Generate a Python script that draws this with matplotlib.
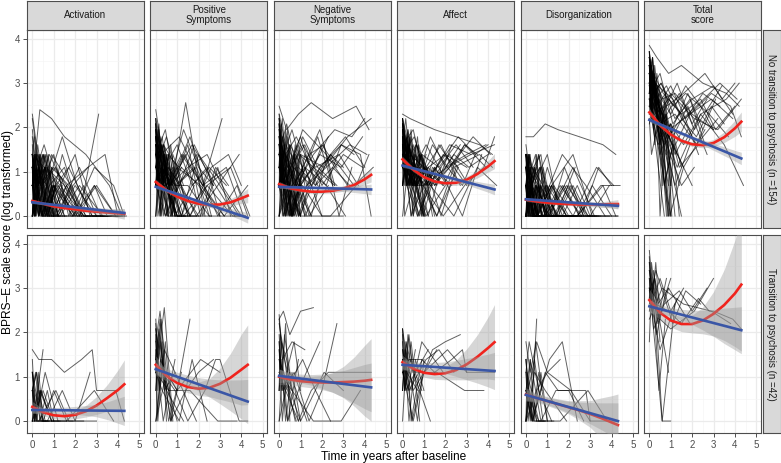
import numpy as np
import matplotlib
matplotlib.use('Agg')
import matplotlib.pyplot as plt

plt.rcParams['font.family'] = ['Liberation Sans', 'DejaVu Sans']

# --
# facets

scales = ['Activation', 'Positive\nSymptoms', 'Negative\nSymptoms', 'Affect',
          'Disorganization', 'Total\nscore']
groups = ['No transition to psychosis (n =154)', 'Transition to psychosis (n =42)']

# --
# visit times per subject (years after baseline)

t_no = [
    [0, 0.2, 0.5, 1.0, 2.1, 3.2, 4.3],
    [0, 0.25, 0.6, 1.1, 2.0],
    [0, 0.1, 0.4, 0.9, 1.6, 2.6],
    [0, 0.3, 0.7, 1.2],
    [0, 0.15, 0.5, 1.0, 1.9, 2.9, 3.9],
    [0, 0.2, 0.45, 0.8],
    [0, 0.35, 0.9, 1.5, 2.5, 3.6, 4.2],
    [0, 0.1, 0.3, 0.6, 1.0],
    [0, 0.25, 0.75, 1.4, 2.3],
    [0, 0.2, 0.55, 1.1, 1.7, 2.8, 3.7],
    [0, 0.4, 1.0],
    [0, 0.15, 0.35, 0.7, 1.3, 2.2, 3.3, 4.1],
    [0, 0.3, 0.6, 1.2, 2.0, 3.0],
    [0, 0.1, 0.5, 0.9, 1.4],
    [0, 0.2, 0.6, 1.3, 2.4, 3.5, 4.4],
    [0, 0.25, 0.5, 0.9],
    [0, 0.45, 1.1, 1.8, 2.7],
    [0, 0.1, 0.3, 0.8, 1.5, 2.1],
    [0, 0.2, 0.7],
    [0, 0.3, 0.8, 1.6, 2.6, 3.4, 4.0],
    [0, 0.15, 0.4, 1.0, 1.5],
    [0, 0.5, 1.2, 2.2, 3.1],
    [0, 0.2, 0.45, 0.95, 1.9, 2.9, 3.8, 4.3],
    [0, 0.1, 0.35, 0.6],
    [0, 0.25, 0.65, 1.2, 1.8],
    [0, 0.3, 0.9, 1.7, 2.5, 3.3],
    [0, 0.2, 0.5, 1.0, 1.6, 2.4, 3.6, 4.2],
    [0, 0.15, 0.55, 1.05],
    [0, 0.1, 0.25, 0.5, 0.75, 1.0],
    [0, 0.15, 0.3, 0.6, 0.9],
    [0, 0.05, 0.2, 0.4, 0.7, 1.1],
    [0, 0.1, 0.3, 0.5, 0.8, 1.3],
    [0, 0.2, 0.35, 0.65, 1.0, 1.5],
    [0, 0.05, 0.15, 0.4, 0.6],
    [0, 0.1, 0.25, 0.45, 0.9, 1.2],
    [0, 0.2, 0.4, 0.55, 0.85],
    [0, 0.1, 0.2, 0.5, 1.0, 1.4],
    [0, 0.15, 0.35, 0.7, 1.1],
    [0, 0.05, 0.3, 0.6, 0.95, 1.6],
    [0, 0.1, 0.4, 0.8],
    [0, 0.2, 0.3, 0.5, 0.7, 1.0],
    [0, 0.1, 0.25, 0.55, 1.2, 1.9],
    [0, 0.15, 0.45, 0.75, 1.05],
    [0, 0.05, 0.2, 0.35, 0.6, 0.9],
    [0, 0.4, 1.0, 1.7, 2.4, 3.0],
    [0, 0.6, 1.3, 2.0, 2.7],
    [0, 0.3, 0.8, 1.5, 2.2, 2.9, 3.5],
    [0, 0.5, 1.1, 1.9, 2.6],
    [0, 0.7, 1.4, 2.1, 2.8, 3.4],
    [0, 0.35, 1.0, 1.6, 2.3],
    [0, 0.55, 1.2, 2.0, 3.0, 3.9],
    [0, 0.45, 0.9, 1.8, 2.5],
    [0, 0.25, 1.1, 2.2, 3.2],
    [0, 0.65, 1.5, 2.4, 3.1, 4.0],
]

t_tr = [
    [0, 0.2, 0.5, 1.0, 1.6],
    [0, 0.1, 0.4, 0.8],
    [0, 0.3, 0.9, 1.5, 2.3, 2.8, 3.0, 3.9, 4.3],
    [0, 0.15, 0.6, 1.2],
    [0, 0.25, 0.5],
    [0, 0.2, 0.7, 1.4, 2.0, 2.7],
    [0, 0.1, 0.3, 0.6, 1.0],
    [0, 0.4, 0.9, 1.9],
    [0, 0.2, 0.45, 0.75],
    [0, 0.3, 1.1, 1.7, 2.4],
    [0, 0.15, 0.5, 1.3],
    [0, 0.6, 1.6, 2.9, 3.8],
    [0, 0.1, 0.35, 0.9],
    [0, 0.5, 1.0, 2.1, 3.0],
    [0, 0.1, 0.3, 0.5],
    [0, 0.2, 0.4, 0.9],
    [0, 0.05, 0.25, 0.6],
    [0, 0.15, 0.35, 0.7, 1.0],
]

# --
# log scale scores, no transition group

act_no = [
    [1.1, 0.69, 0, 0.69, 0, 0, 0], [2.3, 1.39, 0, 0.69, 0], [0.69, 1.1, 0.69, 0, 0, 0],
    [1.39, 0, 0.69, 0], [0, 0.69, 1.39, 0.69, 0, 0.69, 0], [1.79, 0.69, 0, 0],
    [0.69, 2.4, 2.2, 1.79, 1.39, 0.69, 0], [1.39, 1.79, 0.69, 1.1, 0], [0, 0.69, 0, 1.39, 0],
    [0.69, 1.1, 1.61, 0.69, 1.1, 0, 0], [2.2, 0.69, 0], [0.69, 0, 0.69, 0, 0, 0.69, 0, 0],
    [1.1, 0.69, 1.39, 0, 0.69, 0], [0, 1.39, 0, 0.69, 0], [1.39, 0.69, 0, 0.69, 0, 0, 0],
    [0.69, 1.61, 0.69, 0], [0, 0.69, 1.1, 0, 0], [1.1, 0, 0.69, 1.39, 0.69, 0],
    [1.39, 0.69, 0], [0.69, 1.1, 0, 0.69, 1.1, 1.39, 0], [1.61, 0.69, 0, 0.69, 0],
    [0.69, 0, 0.69, 0, 2.3], [1.1, 0.69, 0, 0.69, 0, 1.1, 0.69, 0], [0, 0.69, 1.1, 0],
    [1.95, 0.69, 1.39, 0, 0.69], [0.69, 0, 1.1, 0.69, 0, 0], [0, 0.69, 0, 0, 0.69, 0, 0, 0],
    [1.1, 1.39, 0.69, 0],
    [1.39, 0, 1.1, 0.69, 1.39, 0], [0.69, 1.39, 0, 1.1, 0], [1.1, 0, 1.39, 0.69, 0, 0.69],
    [0, 1.1, 0.69, 1.39, 0, 0], [1.39, 0.69, 1.39, 0, 0.69, 0], [0.69, 1.1, 0, 1.39, 0.69],
    [1.1, 1.39, 0.69, 0, 1.1, 0], [0, 1.39, 0.69, 1.1, 0], [1.39, 1.1, 0, 0.69, 0, 0.69],
    [0.69, 0, 1.39, 0, 0.69], [1.1, 0.69, 0, 1.1, 0, 0], [1.39, 0, 0.69, 0],
    [0.69, 1.1, 1.39, 0, 1.1, 0], [1.1, 0, 0.69, 1.39, 0, 0], [0, 0.69, 1.1, 0, 0.69],
    [1.39, 0.69, 1.1, 0, 0, 0.69],
    [1.1, 0.69, 1.39, 0, 0.69, 0], [0.69, 1.1, 0.69, 1.39, 0], [1.39, 0, 0.69, 1.1, 0, 0.69, 0],
    [0.69, 1.39, 0, 0.69, 1.1], [1.1, 0.69, 1.79, 0.69, 0, 0], [0, 0.69, 1.1, 0.69, 0],
    [1.39, 1.1, 0.69, 0, 0.69, 0], [0.69, 0, 1.39, 0.69, 0], [1.1, 1.39, 0, 1.1, 0],
    [0.69, 1.1, 0.69, 0, 0, 0],
]
pos_no = [
    [1.61, 1.1, 0.69, 1.1, 0.69, 0, 0.69], [2.2, 1.61, 1.1, 0.69, 0], [1.39, 1.79, 1.1, 0.69, 0, 0],
    [1.95, 1.1, 0.69, 0], [0.69, 1.39, 0.69, 0, 0, 0.69, 1.39], [1.79, 1.1, 0.69, 0],
    [1.1, 1.61, 0.69, 0.69, 0, 0, 0], [2.08, 1.39, 1.61, 0.69, 0], [0, 1.1, 0.69, 2.56, 0],
    [1.1, 0.69, 1.39, 1.1, 1.61, 0.69, 0], [1.39, 0.69, 0], [0.69, 1.1, 0, 0.69, 1.39, 0.69, 1.1, 0],
    [1.61, 1.39, 0.69, 1.1, 0.69, 0], [0, 0.69, 1.1, 0, 0], [1.39, 0.69, 1.1, 0, 0.69, 1.1, 0],
    [2.4, 1.61, 0.69, 0], [0.69, 0, 0.69, 1.61, 0.69], [1.79, 1.1, 0.69, 1.1, 0, 0],
    [1.1, 0.69, 0], [0.69, 1.1, 0.69, 0, 1.1, 1.39, 0.69], [1.61, 0.69, 1.1, 0, 0],
    [1.1, 0.69, 1.39, 0.69, 2.2], [0.69, 0.69, 0, 0.69, 1.1, 0, 0.69, 0], [1.39, 0, 0.69, 0],
    [1.1, 1.61, 0.69, 0, 0.69], [0.69, 1.1, 0, 0.69, 1.1, 0.69], [1.39, 0.69, 0.69, 0, 0, 0.69, 0, 0],
    [0.69, 1.1, 0, 0],
    [1.95, 0.69, 1.61, 1.1, 0, 0.69], [1.39, 2.08, 0.69, 1.39, 0], [2.2, 1.1, 0, 1.61, 0.69, 0],
    [0.69, 1.79, 1.1, 0, 1.39, 0.69], [1.61, 0, 1.39, 0.69, 1.1, 0], [2.08, 1.39, 1.95, 0.69, 0],
    [1.1, 1.61, 0, 1.39, 0.69, 1.1], [1.79, 0.69, 1.39, 0, 0.69], [1.39, 1.95, 1.1, 0.69, 0, 0],
    [0, 1.39, 0.69, 1.61, 0], [1.61, 1.1, 1.79, 0.69, 1.1, 0], [2.2, 0.69, 1.39, 0],
    [1.1, 1.79, 0.69, 1.39, 0, 0.69], [1.79, 1.39, 0, 1.1, 0.69, 0], [0.69, 1.61, 1.1, 0, 0.69],
    [1.95, 1.1, 1.61, 0.69, 1.39, 0],
    [1.79, 1.1, 1.61, 0.69, 1.1, 0], [1.39, 0.69, 1.95, 1.1, 0.69], [2.08, 1.39, 0.69, 1.61, 0, 1.1, 0],
    [1.1, 1.79, 0.69, 1.39, 0], [1.61, 0.69, 1.39, 0, 1.1, 0.69], [0.69, 1.61, 1.1, 1.79, 0.69],
    [1.95, 1.1, 0, 1.39, 0.69, 0], [1.39, 1.95, 0.69, 1.1, 0], [0.69, 1.39, 1.79, 0.69, 0],
    [1.61, 0.69, 1.1, 1.39, 0.69, 0],
]
neg_no = [
    [1.61, 1.1, 0.69, 1.39, 1.1, 1.79, 2.2], [0.69, 1.1, 0, 0.69, 0], [2.2, 1.61, 1.1, 0.69, 1.1, 0.69],
    [0, 0.69, 1.39, 0], [1.1, 0.69, 0, 0.69, 1.39, 1.1, 1.79], [1.79, 1.39, 0.69, 0],
    [2.48, 1.95, 2.3, 2.56, 2.2, 2.48, 1.95], [0.69, 1.1, 0, 0.69, 0], [1.39, 0.69, 1.1, 0, 0.69],
    [0, 0.69, 1.1, 1.61, 1.1, 1.39, 0.69], [1.95, 0.69, 0], [1.1, 1.39, 0.69, 0, 0.69, 1.1, 1.61, 1.39],
    [0.69, 0, 0.69, 1.1, 0, 0], [2.08, 1.1, 0.69, 0, 0.69], [1.39, 0.69, 0, 0.69, 1.39, 0.69, 1.1],
    [0.69, 1.61, 1.1, 0], [0, 0.69, 1.79, 1.1, 0.69], [1.61, 0.69, 1.39, 0.69, 0, 1.1],
    [1.1, 0, 0.69], [0.69, 1.1, 0.69, 1.39, 1.95, 1.79, 2.2], [1.79, 1.1, 0, 0.69, 0],
    [0.69, 0, 1.1, 0.69, 0], [1.39, 1.1, 0.69, 0, 1.1, 1.61, 1.39, 0], [0, 1.1, 0.69, 0],
    [1.1, 0.69, 0, 1.39, 0.69], [2.3, 1.61, 1.1, 0.69, 1.1, 0.69], [0.69, 0, 0.69, 0, 0, 0, 0.69, 1.39],
    [1.39, 0.69, 0, 0.69],
    [2.08, 0.69, 1.61, 0, 1.39, 0.69], [1.61, 2.2, 1.1, 0, 0.69], [1.1, 1.79, 0.69, 1.39, 0, 1.1],
    [2.3, 1.39, 0, 1.61, 0.69, 0], [0.69, 1.61, 1.1, 0, 1.39, 0.69], [1.95, 0.69, 1.79, 1.1, 0],
    [1.39, 2.08, 0, 1.1, 1.61, 0.69], [0.69, 1.39, 1.95, 0, 1.1], [1.79, 1.1, 0.69, 1.61, 0, 0.69],
    [2.2, 0, 1.39, 0.69, 1.1], [1.1, 1.61, 0.69, 0, 1.39, 1.1], [1.61, 0.69, 1.79, 0],
    [0, 1.1, 1.95, 0.69, 1.39, 0], [1.39, 1.79, 0.69, 1.1, 0, 0.69], [2.08, 1.1, 0, 1.61, 0.69],
    [0.69, 1.95, 1.39, 0, 1.1, 0],
    [1.61, 1.1, 1.79, 0.69, 1.39, 1.1], [1.1, 1.95, 0.69, 1.61, 1.1], [2.2, 1.39, 1.79, 1.1, 0.69, 1.61, 1.39],
    [0.69, 1.61, 1.1, 1.95, 0.69], [1.79, 0.69, 1.39, 1.61, 0, 1.1], [1.39, 2.08, 0.69, 1.1, 1.79],
    [0.69, 1.1, 1.61, 0.69, 1.39, 1.1], [1.95, 1.39, 0.69, 1.79, 0.69], [1.1, 0.69, 1.95, 1.39, 0.69],
    [1.61, 1.1, 0.69, 1.39, 1.79, 1.1],
]
aff_no = [
    [1.95, 1.39, 1.1, 0.69, 1.1, 1.39, 1.61], [2.08, 1.61, 0.69, 0, 0.69], [1.1, 1.79, 1.39, 0.69, 0, 1.1],
    [1.61, 0.69, 1.1, 0], [1.39, 1.1, 0.69, 1.1, 0.69, 1.61, 1.1], [2.2, 1.39, 0.69, 1.1],
    [2.3, 2.2, 2.08, 1.95, 1.79, 1.61, 1.39], [1.79, 1.1, 1.61, 0.69, 0], [0.69, 1.39, 0, 1.1, 0.69],
    [1.39, 0.69, 1.1, 1.61, 1.1, 0, 1.39], [1.1, 0.69, 0], [0.69, 1.39, 1.1, 0, 0.69, 1.1, 1.79, 1.39],
    [1.95, 1.61, 0.69, 1.1, 1.39, 1.1], [1.1, 0, 0.69, 1.39, 0], [1.61, 0.69, 1.1, 0.69, 0, 1.1, 0.69],
    [0, 1.1, 1.61, 0.69], [1.39, 0.69, 1.1, 1.61, 0.69], [2.08, 1.39, 0.69, 0, 1.1, 0.69],
    [1.61, 0.69, 0], [1.1, 1.61, 0.69, 1.1, 1.79, 1.39, 1.61], [0.69, 1.1, 0, 0.69, 1.1],
    [1.79, 1.1, 0.69, 1.39, 0.69], [1.39, 0.69, 1.1, 0.69, 0, 0.69, 1.1, 1.79], [2.2, 1.61, 1.1, 0.69],
    [0.69, 1.39, 0.69, 0, 1.1], [1.1, 0.69, 1.39, 1.1, 1.61, 1.1], [1.61, 1.1, 0.69, 0.69, 0, 1.1, 1.39, 1.1],
    [0.69, 1.39, 0.69, 0],
    [2.2, 1.39, 1.95, 0.69, 1.61, 1.1], [1.79, 0.69, 1.61, 1.1, 0], [1.39, 2.08, 1.1, 1.79, 0.69, 1.1],
    [1.95, 1.1, 1.79, 0, 1.39, 0.69], [1.1, 1.79, 0.69, 1.61, 1.1, 0], [2.08, 1.61, 1.1, 1.95, 0.69],
    [1.61, 0.69, 1.95, 1.39, 0, 1.1], [2.2, 1.79, 0.69, 1.39, 1.1], [0.69, 1.61, 1.39, 0, 1.1, 0.69],
    [1.95, 1.1, 1.79, 0.69, 1.39], [1.39, 1.95, 0.69, 1.61, 0, 1.1], [1.79, 1.39, 0, 1.1],
    [2.08, 0.69, 1.61, 1.1, 1.79, 0], [1.1, 1.79, 1.39, 0.69, 1.1, 0.69], [1.61, 2.2, 0.69, 1.39, 0],
    [1.95, 1.1, 1.61, 0.69, 1.39, 1.1],
    [1.79, 1.39, 0.69, 1.61, 1.1, 0.69], [1.39, 0.69, 1.79, 1.1, 1.61], [2.08, 1.1, 1.39, 0.69, 1.1, 1.61, 1.39],
    [1.61, 1.95, 0.69, 1.39, 1.1], [1.1, 0.69, 1.61, 1.1, 0.69, 1.39], [1.95, 1.39, 1.1, 0.69, 1.61],
    [1.39, 1.79, 0.69, 1.1, 1.39, 1.61], [1.61, 0.69, 1.39, 0, 1.1], [2.2, 1.1, 0.69, 1.61, 1.39],
    [1.1, 1.61, 0.69, 1.39, 1.1, 1.39],
]
dis_no = [
    [0.69, 0, 0.69, 0, 0, 0, 0], [1.39, 0.69, 0, 0, 0], [0, 0.69, 1.1, 0, 0, 0],
    [1.1, 0, 0.69, 0], [0, 1.39, 0.69, 0, 0.69, 0, 0], [0.69, 1.1, 0, 0],
    [1.79, 1.79, 2.08, 1.95, 1.79, 1.61, 1.39], [0.69, 0, 0.69, 1.39, 0], [0, 0.69, 0, 0, 1.1],
    [1.39, 0.69, 0, 0.69, 1.39, 0.69, 0], [0.69, 0, 0], [0, 0.69, 0, 0, 0.69, 0, 1.1, 0.69],
    [1.1, 0.69, 1.39, 0, 0, 0], [0.69, 0, 0, 0.69, 0], [0, 0.69, 0, 0, 0, 0.69, 0.69],
    [1.61, 0.69, 0, 0], [0, 0.69, 0, 1.1, 0], [0.69, 0, 0.69, 0, 0, 0],
    [1.1, 0, 0], [0, 0.69, 0, 0.69, 0, 1.1, 0.69], [0.69, 1.39, 0, 0, 0],
    [0, 0, 0.69, 1.39, 0], [0.69, 0, 0, 0.69, 0, 0, 0, 0], [1.39, 0.69, 0, 0],
    [0, 0.69, 1.1, 0, 0], [0.69, 0, 0, 0.69, 0, 0], [0, 0, 0.69, 0, 0, 0, 0.69, 0],
    [1.1, 0.69, 0, 0],
    [1.39, 0, 0.69, 1.1, 0, 0], [0.69, 1.1, 0, 0.69, 0], [1.1, 0.69, 1.39, 0, 0.69, 0],
    [0, 1.39, 0.69, 0, 1.1, 0], [1.39, 0.69, 0, 1.1, 0, 0], [0.69, 0, 1.39, 0.69, 0],
    [1.1, 1.39, 0, 0.69, 0, 0.69], [0, 0.69, 1.1, 0, 0], [1.39, 1.1, 0.69, 0, 0.69, 0],
    [0.69, 0, 1.1, 1.39, 0], [1.1, 0.69, 0, 0.69, 0, 0], [1.39, 0.69, 0, 0],
    [0, 1.1, 0.69, 1.39, 0, 0], [0.69, 1.39, 0, 0, 0.69, 0], [1.1, 0, 0.69, 0, 0],
    [1.39, 0.69, 1.1, 0, 0.69, 0],
    [0.69, 0, 1.1, 0, 0.69, 0], [1.1, 0.69, 0, 0.69, 0], [0, 1.1, 0.69, 0, 0.69, 0, 0],
    [1.39, 0, 0.69, 0, 0], [0.69, 1.1, 0, 0.69, 0, 0], [0, 0.69, 1.39, 0, 0],
    [1.1, 0, 0.69, 0, 0, 0.69], [0.69, 1.39, 0, 0.69, 0], [0, 0.69, 0, 1.1, 0],
    [1.39, 0.69, 0, 0, 0.69, 0],
]
tot_no = [
    [3.22, 2.64, 2.3, 2.77, 2.2, 1.95, 2.64], [3.58, 3.0, 2.08, 1.61, 0.69], [2.77, 3.22, 2.64, 1.79, 1.1, 1.95],
    [3.4, 2.3, 2.48, 0], [2.3, 2.77, 2.08, 1.39, 2.3, 2.64, 2.2], [3.71, 3.0, 2.08, 1.39],
    [3.85, 3.58, 3.22, 3.4, 3.0, 2.77, 2.48], [3.0, 3.4, 2.64, 2.3, 0.69], [2.48, 1.79, 2.3, 1.1, 1.61],
    [3.22, 2.77, 3.0, 2.48, 2.77, 2.3, 1.79], [2.64, 1.61, 0], [2.77, 3.0, 2.3, 1.61, 2.08, 2.48, 3.0, 2.64],
    [3.4, 3.0, 2.64, 2.77, 2.3, 1.95], [2.2, 1.39, 2.3, 1.79, 0.69], [3.0, 2.48, 2.08, 1.1, 2.3, 1.61, 0.69],
    [3.58, 2.77, 1.95, 1.1], [2.3, 2.64, 1.79, 2.48, 1.39], [3.22, 2.3, 2.77, 1.61, 0.69, 1.1],
    [2.64, 1.95, 0], [2.77, 3.0, 2.48, 2.77, 3.22, 2.64, 3.0], [3.0, 2.2, 1.61, 2.08, 1.1],
    [2.48, 2.08, 2.3, 1.61, 2.64], [3.22, 2.77, 2.48, 1.95, 2.3, 2.77, 2.48, 1.79], [3.4, 2.64, 2.3, 1.39],
    [2.08, 2.77, 2.2, 1.39, 1.95], [2.94, 2.3, 2.64, 2.2, 2.77, 2.48], [2.64, 2.2, 1.79, 2.08, 1.61, 2.3, 2.64, 3.0],
    [3.71, 2.94, 2.48, 1.61],
    [3.58, 2.3, 3.22, 1.61, 2.77, 0.69], [3.22, 3.58, 2.48, 1.1, 0], [2.77, 3.4, 1.95, 2.64, 0.69, 1.61],
    [3.71, 2.64, 3.0, 0, 2.3, 1.39], [3.0, 2.08, 3.22, 2.3, 1.1, 0], [3.4, 2.77, 3.58, 1.95, 0.69],
    [2.64, 3.22, 1.61, 2.77, 0, 1.95], [3.58, 3.0, 2.2, 2.64, 0], [3.22, 2.48, 3.4, 1.39, 2.08, 0],
    [2.94, 3.58, 2.3, 0.69, 1.61], [3.4, 2.64, 3.0, 1.95, 0, 1.1], [3.71, 2.2, 2.94, 0],
    [2.48, 3.22, 2.77, 1.61, 2.3, 0], [3.0, 2.3, 3.4, 2.08, 0.69, 1.61], [3.58, 2.94, 1.79, 2.48, 0],
    [2.77, 3.4, 2.2, 2.94, 1.39, 0.69],
    [3.22, 2.77, 2.3, 2.94, 2.48, 1.95], [2.94, 2.3, 3.0, 2.08, 2.64], [3.4, 2.64, 2.94, 2.2, 1.79, 2.48, 2.08],
    [2.77, 3.22, 2.08, 2.64, 1.61], [3.0, 2.2, 2.77, 1.95, 2.48, 2.94], [3.58, 2.48, 2.94, 2.3, 1.39],
    [2.64, 3.0, 2.2, 2.64, 2.94, 2.3], [3.22, 2.48, 1.79, 2.77, 1.95], [2.48, 3.0, 2.64, 1.61, 2.2],
    [3.4, 2.77, 2.3, 2.64, 1.95, 2.48],
]

# --
# log scale scores, transition group

act_tr = [
    [0.69, 1.1, 0, 0.69, 0], [1.1, 0.69, 0, 0], [1.61, 1.39, 1.39, 1.1, 1.39, 1.61, 0.69, 0.69, 0],
    [1.39, 0, 1.1, 0], [0, 0.69, 1.61], [0.69, 0, 0, 0.69, 0, 1.1], [1.1, 0, 0.69, 0, 0],
    [0, 0.69, 0, 0], [0.69, 1.1, 0, 0], [0, 0, 0.69, 0, 0], [1.1, 0.69, 0, 0],
    [0, 0, 0, 0.69, 0], [0.69, 0, 0.69, 0], [0, 0.69, 0, 0, 0],
    [0.69, 0, 1.1, 0], [1.1, 0, 0.69, 0], [0, 0.69, 0, 0], [0.69, 1.1, 0, 0.69, 0],
]
pos_tr = [
    [1.79, 2.48, 1.1, 0.69, 2.3], [2.2, 1.39, 2.56, 0], [1.39, 1.1, 0.69, 0, 0.69, 1.39, 1.39, 0, 0],
    [2.08, 1.61, 0, 1.1], [1.1, 2.3, 0.69], [0.69, 1.79, 0, 0.69, 1.1, 1.39], [1.61, 0, 1.39, 0.69, 0],
    [0, 1.61, 1.1, 0], [2.3, 0.69, 1.79, 0], [1.1, 0.69, 0, 1.39, 0], [1.39, 2.08, 0.69, 0],
    [1.1, 0.69, 0.69, 0, 0], [1.95, 1.1, 0, 1.39], [0, 1.1, 0.69, 1.39, 1.1],
    [2.08, 0.69, 1.79, 0], [1.39, 2.3, 0.69, 1.1], [1.79, 0, 1.39, 0.69], [0.69, 1.95, 1.1, 0, 0.69],
]
neg_tr = [
    [2.3, 2.48, 1.95, 2.48, 2.56], [1.79, 1.1, 0.69, 0], [1.1, 0.69, 0, 0.69, 1.1, 1.1, 1.1, 1.1, 1.1],
    [2.4, 1.39, 1.79, 1.61], [0, 1.95, 1.1], [1.61, 0.69, 1.1, 0, 0.69, 2.2], [0.69, 1.39, 0, 1.1, 0],
    [1.39, 0, 0.69, 1.79], [2.2, 1.61, 0.69, 0], [0, 0.69, 1.39, 0.69, 0], [1.95, 0.69, 1.1, 0],
    [1.1, 0.69, 0, 0, 0.69], [0.69, 1.79, 1.39, 0], [1.39, 0.69, 0, 1.1, 0.69],
    [1.79, 0.69, 2.2, 0], [2.3, 1.1, 0, 1.39], [0.69, 1.95, 1.39, 0.69], [1.61, 0, 1.1, 1.79, 0.69],
]
aff_tr = [
    [2.08, 1.39, 0.69, 1.1, 1.61], [1.39, 0.69, 1.79, 0], [1.1, 1.39, 1.39, 1.1, 1.39, 1.61, 1.1, 1.1, 1.1],
    [1.79, 0.69, 1.1, 1.61], [0, 1.95, 1.1], [1.61, 1.1, 0.69, 1.61, 1.79, 1.95], [0.69, 1.61, 0, 1.39, 0.69],
    [1.39, 0.69, 1.79, 1.1], [2.08, 1.1, 0, 0.69], [1.1, 0.69, 1.39, 1.61, 1.1], [0.69, 1.79, 1.1, 0],
    [1.39, 1.1, 1.1, 0.69, 0.69], [1.95, 0.69, 1.39, 0.69], [1.1, 0, 1.1, 1.61, 1.1],
    [1.61, 0.69, 1.95, 1.1], [1.1, 1.79, 0, 1.39], [2.08, 1.39, 0.69, 1.61], [0.69, 1.61, 1.1, 0, 1.39],
]
dis_tr = [
    [1.79, 1.1, 1.79, 1.1, 1.39], [0, 0.69, 1.39, 0], [0.69, 0, 1.1, 0.69, 0.69, 0.69, 0, 0, 0],
    [1.1, 1.79, 0.69, 0], [0.69, 0, 2.3], [0, 1.39, 0, 0.69, 0.69, 0], [1.39, 0.69, 0, 1.1, 0],
    [0, 1.1, 0.69, 0], [1.1, 0, 1.79, 0.69], [0.69, 0, 1.39, 1.79, 0], [0, 0.69, 0, 0],
    [0.69, 0, 0, 0.69, 0], [1.39, 0.69, 0, 0], [0, 0.69, 1.1, 0.69, 0],
    [1.1, 0, 0.69, 0], [0.69, 1.39, 0, 0], [0, 1.1, 0.69, 0], [1.39, 0.69, 0, 1.1, 0],
]
tot_tr = [
    [3.4, 2.77, 3.22, 2.48, 3.0], [2.77, 3.58, 2.3, 3.22], [3.0, 2.64, 2.48, 2.2, 2.77, 2.48, 2.48, 2.3, 2.08],
    [3.71, 2.3, 0, 2.64], [2.48, 3.22, 1.79], [3.22, 2.08, 2.64, 2.94, 2.48, 3.0], [1.79, 3.0, 2.48, 0, 0],
    [3.4, 2.2, 3.0, 2.2], [3.85, 2.77, 0.69, 2.3], [2.64, 3.4, 2.2, 2.94, 2.64], [3.0, 2.48, 1.61, 2.77],
    [2.3, 3.0, 2.64, 2.48, 2.2], [3.58, 3.22, 2.64, 1.1], [2.94, 2.3, 2.08, 2.48, 3.22],
    [3.22, 2.48, 3.58, 2.3], [2.77, 3.4, 2.64, 3.0], [3.58, 2.94, 3.22, 2.48], [3.0, 2.64, 1.95, 2.77, 3.22],
]

# --
# smoothers: loess (red) and linear fit (blue) with ribbons

fit_x = [0, 0.5, 1, 1.5, 2, 2.5, 3, 3.5, 4, 4.3]

loess_no = [
    [0.34, 0.28, 0.22, 0.18, 0.15, 0.12, 0.10, 0.08, 0.06, 0.05],
    [0.77, 0.58, 0.44, 0.34, 0.28, 0.25, 0.26, 0.31, 0.40, 0.46],
    [0.72, 0.63, 0.58, 0.55, 0.55, 0.57, 0.62, 0.70, 0.83, 0.93],
    [1.28, 1.05, 0.88, 0.78, 0.74, 0.75, 0.82, 0.95, 1.12, 1.24],
    [0.37, 0.33, 0.30, 0.28, 0.27, 0.26, 0.26, 0.26, 0.27, 0.27],
    [2.34, 2.05, 1.84, 1.70, 1.62, 1.60, 1.65, 1.78, 1.98, 2.13],
]
loess_no_se = [
    [0.04, 0.03, 0.03, 0.03, 0.03, 0.04, 0.05, 0.07, 0.10, 0.12],
    [0.06, 0.04, 0.04, 0.04, 0.04, 0.05, 0.06, 0.08, 0.12, 0.16],
    [0.06, 0.04, 0.04, 0.04, 0.04, 0.05, 0.06, 0.08, 0.12, 0.16],
    [0.07, 0.05, 0.04, 0.04, 0.05, 0.06, 0.07, 0.09, 0.13, 0.17],
    [0.04, 0.03, 0.03, 0.03, 0.03, 0.04, 0.05, 0.06, 0.08, 0.10],
    [0.08, 0.05, 0.05, 0.05, 0.05, 0.06, 0.08, 0.12, 0.18, 0.22],
]
lm_no = [[0.31, 0.07], [0.66, -0.04], [0.66, 0.60], [1.14, 0.60], [0.38, 0.23], [2.17, 1.30]]
lm_no_se = [
    [0.03, 0.02, 0.02, 0.02, 0.03, 0.04, 0.05, 0.06, 0.08, 0.09],
    [0.04, 0.03, 0.03, 0.03, 0.04, 0.05, 0.06, 0.08, 0.10, 0.12],
    [0.04, 0.03, 0.03, 0.03, 0.04, 0.05, 0.06, 0.08, 0.10, 0.12],
    [0.04, 0.03, 0.03, 0.03, 0.04, 0.05, 0.06, 0.08, 0.10, 0.12],
    [0.03, 0.02, 0.02, 0.02, 0.03, 0.03, 0.04, 0.05, 0.06, 0.07],
    [0.05, 0.04, 0.04, 0.04, 0.05, 0.06, 0.08, 0.10, 0.12, 0.14],
]

loess_tr = [
    [0.32, 0.20, 0.13, 0.11, 0.14, 0.22, 0.35, 0.52, 0.70, 0.83],
    [1.27, 1.02, 0.86, 0.77, 0.73, 0.75, 0.84, 0.98, 1.16, 1.27],
    [1.00, 0.94, 0.90, 0.88, 0.87, 0.87, 0.88, 0.89, 0.91, 0.93],
    [1.33, 1.18, 1.09, 1.06, 1.08, 1.15, 1.28, 1.45, 1.65, 1.78],
    [0.60, 0.52, 0.45, 0.38, 0.31, 0.24, 0.16, 0.07, -0.03, -0.09],
    [2.73, 2.45, 2.27, 2.19, 2.19, 2.27, 2.42, 2.62, 2.88, 3.08],
]
loess_tr_se = [
    [0.12, 0.08, 0.08, 0.08, 0.09, 0.13, 0.20, 0.30, 0.45, 0.55],
    [0.20, 0.12, 0.12, 0.13, 0.15, 0.20, 0.35, 0.55, 0.80, 0.90],
    [0.18, 0.12, 0.12, 0.13, 0.16, 0.22, 0.35, 0.55, 0.80, 0.93],
    [0.15, 0.10, 0.10, 0.12, 0.15, 0.22, 0.35, 0.50, 0.70, 0.85],
    [0.15, 0.10, 0.10, 0.12, 0.15, 0.22, 0.30, 0.45, 0.60, 0.70],
    [0.25, 0.15, 0.15, 0.17, 0.20, 0.30, 0.50, 0.80, 1.20, 1.50],
]
lm_tr = [[0.25, 0.23], [1.17, 0.44], [1.02, 0.76], [1.27, 1.13], [0.59, 0.0], [2.59, 2.05]]
lm_tr_se = [
    [0.08, 0.06, 0.06, 0.07, 0.09, 0.11, 0.14, 0.20, 0.28, 0.33],
    [0.15, 0.10, 0.10, 0.12, 0.15, 0.20, 0.27, 0.35, 0.44, 0.50],
    [0.15, 0.10, 0.10, 0.12, 0.16, 0.22, 0.30, 0.40, 0.50, 0.55],
    [0.12, 0.08, 0.08, 0.10, 0.13, 0.18, 0.24, 0.30, 0.37, 0.42],
    [0.12, 0.08, 0.08, 0.10, 0.13, 0.18, 0.24, 0.30, 0.37, 0.41],
    [0.15, 0.10, 0.10, 0.12, 0.16, 0.22, 0.30, 0.40, 0.48, 0.53],
]

rows = [
    (t_no, [act_no, pos_no, neg_no, aff_no, dis_no, tot_no], loess_no, loess_no_se, lm_no, lm_no_se),
    (t_tr, [act_tr, pos_tr, neg_tr, aff_tr, dis_tr, tot_tr], loess_tr, loess_tr_se, lm_tr, lm_tr_se),
]

# --
# layout (pixels)

W, H = 781, 463
RED = '#F0231D'
BLUE = '#3A56A6'
EDGE = '#4D4D4D'
STRIP = '#D9D9D9'

col_left = [27 + k * 123.4 for k in range(6)]
col_w = 117
row_top = [30, 235]
row_h = 198

fig = plt.figure(figsize=(W / 100, H / 100), dpi=100)


def box(x0, y0, x1, y1):
    return fig.add_axes([x0 / W, 1 - y1 / H, (x1 - x0) / W, (y1 - y0) / H])


fx = np.array(fit_x)

for r, (times, panels, lo, lo_se, lm, lm_se) in enumerate(rows):
    for c in range(6):
        x0, y0 = col_left[c], row_top[r]
        ax = box(x0, y0, x0 + col_w, y0 + row_h)
        ax.set_xlim(-0.25, 5.22)
        ax.set_ylim(-0.27, 4.2)
        ax.set_xticks(range(6))
        ax.set_yticks(range(5))
        ax.set_xticks(np.arange(0.5, 5.5, 1), minor=True)
        ax.set_yticks(np.arange(0.5, 4.5, 1), minor=True)
        ax.grid(which='major', color='#EBEBEB', lw=0.9)
        ax.grid(which='minor', color='#F5F5F5', lw=0.5)
        ax.set_axisbelow(True)
        for s in ax.spines.values():
            s.set_color(EDGE)
            s.set_linewidth(0.8)
        ax.tick_params(which='minor', length=0)
        ax.tick_params(which='major', length=3, width=0.6, color='#333333',
                       labelsize=7, labelcolor='#4D4D4D', pad=2)
        if r == 0:
            ax.tick_params(axis='x', which='major', length=0, labelbottom=False)
        if c > 0:
            ax.tick_params(axis='y', which='major', length=0, labelleft=False)

        # individual trajectories
        for t, y in zip(times, panels[c]):
            ax.plot(t[:len(y)], y, color='black', alpha=0.62, lw=0.7, zorder=2)

        # loess smoother
        lo_y = np.array(lo[c])
        lo_w = np.array(lo_se[c])
        ax.fill_between(fx, lo_y - lo_w, lo_y + lo_w, color='#999999', alpha=0.4,
                        lw=0, zorder=3)
        ax.plot(fx, lo_y, color=RED, lw=1.9, zorder=3)

        # linear fit
        lm_y = np.interp(fx, [fx[0], fx[-1]], lm[c])
        lm_w = np.array(lm_se[c])
        ax.fill_between(fx, lm_y - lm_w, lm_y + lm_w, color='#999999', alpha=0.4,
                        lw=0, zorder=4)
        ax.plot(fx, lm_y, color=BLUE, lw=1.9, zorder=4)

        # column strip
        if r == 0:
            st = box(x0, 1, x0 + col_w, 29.5)
            st.set_facecolor(STRIP)
            st.set_xticks([])
            st.set_yticks([])
            for s in st.spines.values():
                s.set_color(EDGE)
                s.set_linewidth(0.8)
            st.text(0.5, 0.5, scales[c], ha='center', va='center', fontsize=7,
                    color='#1A1A1A', linespacing=0.95, transform=st.transAxes)

    # row strip
    st = box(762.5, row_top[r], 780.5, row_top[r] + row_h)
    st.set_facecolor(STRIP)
    st.set_xticks([])
    st.set_yticks([])
    for s in st.spines.values():
        s.set_color(EDGE)
        s.set_linewidth(0.8)
    st.text(0.5, 0.5, groups[r], ha='center', va='center', rotation=-90, fontsize=7,
            color='#1A1A1A', transform=st.transAxes)

fig.text(394 / W, 1 - 457 / H, 'Time in years after baseline', ha='center', va='center',
         fontsize=8.6, color='black')
fig.text(8 / W, 1 - 231.5 / H, 'BPRS\u2013E scale score (log transformed)', ha='center',
         va='center', rotation=90, fontsize=8.6, color='black')

plt.savefig('out.png', dpi=100)
